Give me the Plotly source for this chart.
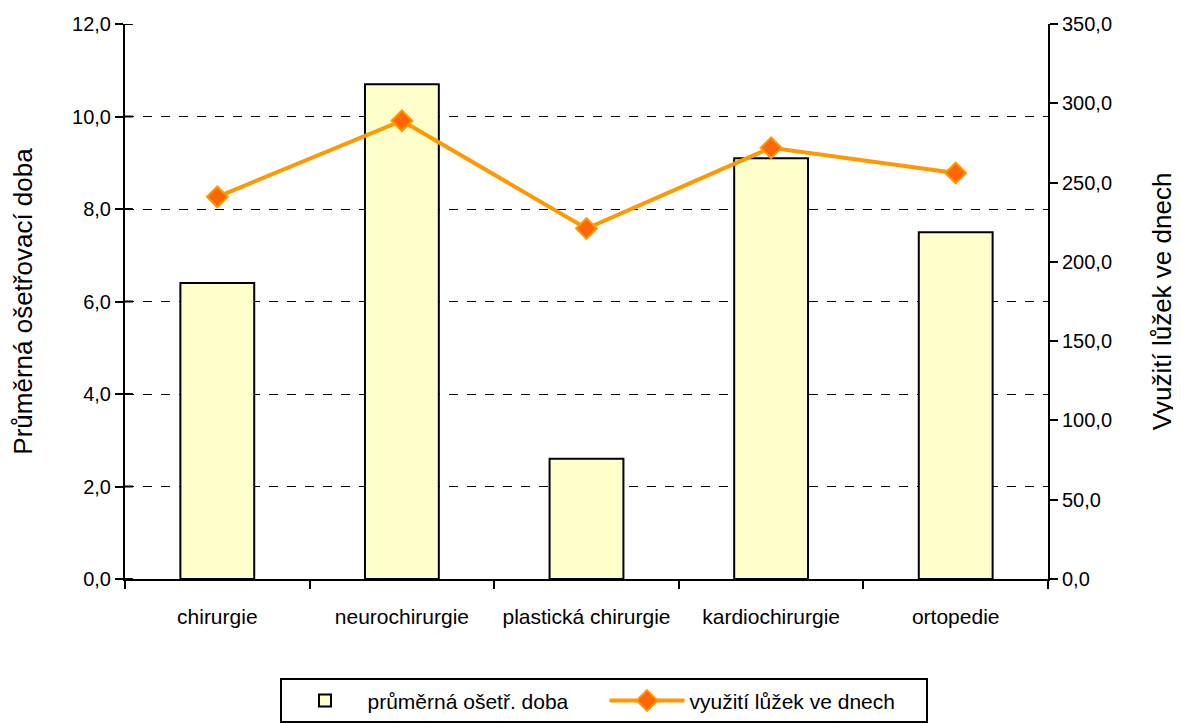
import plotly.graph_objects as go

categories = ["chirurgie", "neurochirurgie", "plastická chirurgie", "kardiochirurgie", "ortopedie"]
avg_days = [6.4, 10.7, 2.6, 9.1, 7.5]
bed_use = [241, 289, 221, 272, 256]
left_ticks = [0, 2, 4, 6, 8, 10, 12]
right_ticks = [0, 50, 100, 150, 200, 250, 300, 350]

font = "Liberation Sans, Arial, sans-serif"
fmt = lambda v: f"{v:.1f}".replace(".", ",")

fig = go.Figure()
fig.add_trace(go.Bar(
    x=categories, y=avg_days, name="průměrná ošetř. doba",
    marker=dict(color="#FFFFCC", line=dict(color="black", width=2)),
    width=0.4, yaxis="y",
))
fig.add_trace(go.Scatter(
    x=categories, y=bed_use, name="využití lůžek ve dnech", mode="lines+markers",
    line=dict(color="#FF9900", width=4),
    marker=dict(symbol="diamond", size=16, color="#FF6600", line=dict(color="#FF9900", width=2)),
    yaxis="y2",
))

# inner half of the crossing ticks on the left axis
for v in left_ticks:
    fig.add_shape(type="line", xref="paper", yref="y", x0=0, x1=0.0085, y0=v, y1=v,
                  line=dict(color="black", width=2), layer="above")

fig.update_layout(
    width=1181, height=723,
    paper_bgcolor="white", plot_bgcolor="white",
    margin=dict(l=117, r=141, t=16, b=152, autoexpand=False),
    font=dict(family=font, size=20, color="black"),
    showlegend=True,
    legend=dict(orientation="h", x=0.5195, xanchor="center", y=-0.179, yanchor="top",
                bordercolor="black", borderwidth=2, font=dict(size=21),
                itemwidth=75, entrywidth=232, tracegroupgap=0),
    xaxis=dict(type="category", showline=True, linecolor="black", linewidth=2,
               ticks="outside", ticklen=8, tickwidth=2, tickcolor="black",
               tickson="boundaries", showgrid=False, tickfont=dict(size=21),
               ticklabelstandoff=18, automargin=False),
    yaxis=dict(range=[0, 12], tickvals=left_ticks,
               ticktext=[fmt(v) for v in left_ticks],
               showline=True, linecolor="black", linewidth=2,
               ticks="outside", ticklen=8, tickwidth=2, tickcolor="black",
               showgrid=True, gridcolor="black", griddash="dash", gridwidth=1,
               zeroline=False, automargin=False, tickfont=dict(size=20),
               title=dict(text="Průměrná ošetřovací doba", font=dict(size=26), standoff=36)),
    yaxis2=dict(range=[0, 350], tickvals=right_ticks,
                ticktext=[fmt(v) for v in right_ticks],
                overlaying="y", side="right",
                showline=True, linecolor="black", linewidth=2,
                ticks="outside", ticklen=8, tickwidth=2, tickcolor="black",
                showgrid=False, zeroline=False, automargin=False, tickfont=dict(size=20),
                title=dict(text="Využití lůžek ve dnech", font=dict(size=26), standoff=42)),
)

fig.write_html("out.html")
